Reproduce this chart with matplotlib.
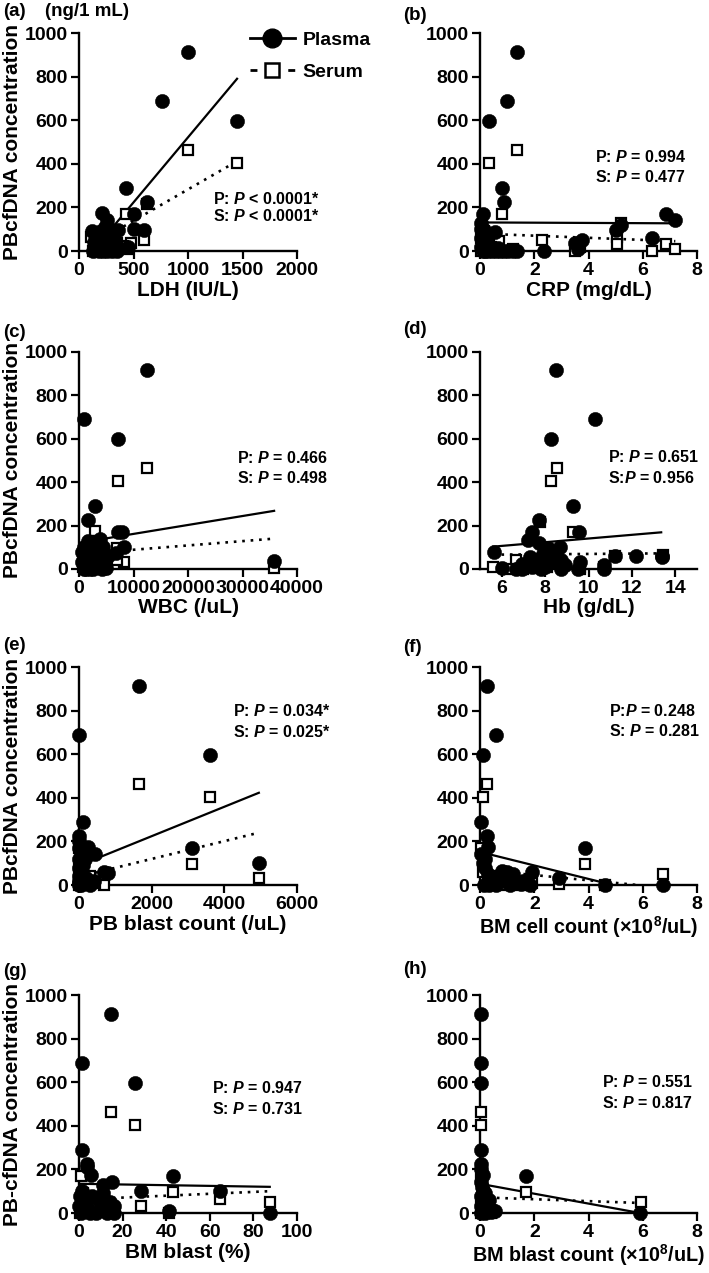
import matplotlib
matplotlib.use('Agg')
import matplotlib.pyplot as plt
from matplotlib.lines import Line2D

plt.rcParams['font.family'] = ['Liberation Sans', 'DejaVu Sans']
plt.rcParams['font.weight'] = 'bold'
plt.rcParams['mathtext.fontset'] = 'custom'
plt.rcParams['mathtext.rm'] = 'Liberation Sans:bold'
plt.rcParams['mathtext.it'] = 'Liberation Sans:bold:italic'
plt.rcParams['mathtext.bf'] = 'Liberation Sans:bold'

# (a) LDH
ldh_plasma_x = [1000, 765, 1450, 430, 620, 500, 215, 255, 500, 600, 360, 115, 240, 130, 150, 170, 190, 210,
                230, 250, 270, 290, 310, 330, 350, 180, 220, 260, 300, 200, 160, 320, 280, 450, 140]
ldh_plasma_y = [915, 690, 598, 290, 225, 170, 175, 140, 100, 95, 95, 90, 110, 0, 10, 30, 50, 70,
                20, 40, 80, 60, 10, 30, 0, 0, 0, 0, 0, 90, 60, 50, 100, 20, 40]
ldh_serum_x = [1000, 1450, 430, 620, 600, 480, 110, 150, 180, 200, 230, 260, 300, 330, 400, 450, 250,
               210, 170, 350, 280, 130]
ldh_serum_y = [465, 405, 170, 215, 50, 35, 65, 20, 40, 10, 30, 50, 20, 0, 25, 10, 0, 60, 5, 35, 70, 0]
ldh_fit_plasma = ([140, 1450], [8, 790])
ldh_fit_serum = ([140, 1450], [35, 412])

# (b) CRP
crp_plasma_x = [1.35, 1.0, 0.35, 0.8, 0.9, 0.1, 6.85, 7.2, 5.2, 5.0, 6.35, 3.75, 3.5, 2.35, 0.55, 0.05, 0.1,
                0.05, 0.15, 0.05, 0.1, 0.2, 0.3, 0.45, 0.6, 0.75, 0.9, 1.05, 1.2, 1.35, 0.2, 0.3, 0.15,
                0.4, 0.65, 0.05, 0.25, 3.6]
crp_plasma_y = [915, 690, 598, 290, 225, 170, 170, 140, 120, 95, 60, 50, 35, 0, 85, 100, 80,
                60, 40, 20, 0, 0, 0, 0, 0, 0, 0, 0, 0, 0, 55, 25, 95, 10, 15, 130, 70, 10]
crp_serum_x = [1.35, 0.35, 0.8, 5.2, 5.05, 5.05, 2.3, 3.5, 6.35, 6.85, 7.2, 0.7, 0.05, 0.1, 0.2, 0.05,
               0.4, 0.6, 1.0, 1.2, 0.15, 3.7]
crp_serum_y = [465, 405, 170, 130, 65, 30, 50, 0, 0, 30, 10, 45, 60, 30, 10, 0, 20, 5, 0, 10, 90, 20]
crp_fit_plasma = ([0, 7.2], [131, 127])
crp_fit_serum = ([0, 7.2], [80, 45])

# (c) WBC
wbc_plasma_x = [12500, 900, 7100, 3000, 1700, 3800, 7200, 7800, 8200, 35800, 600, 1000, 1400, 1800, 2200,
                2600, 3000, 3400, 3800, 4200, 4600, 5000, 1200, 2000, 2400, 2800, 3200, 1600, 600, 900,
                5400, 6800, 4400, 2000]
wbc_plasma_y = [915, 690, 598, 290, 225, 140, 170, 170, 100, 35, 80, 100, 60, 40, 20,
                0, 10, 50, 30, 0, 15, 5, 0, 0, 70, 90, 120, 130, 30, 0,
                60, 75, 100, 110]
wbc_serum_x = [12500, 7100, 3000, 6900, 8200, 35800, 1000, 1500, 2000, 2500, 3000, 3500, 4000, 4500,
               1200, 2200, 5000, 800, 6900]
wbc_serum_y = [465, 405, 175, 95, 30, 5, 60, 20, 40, 0, 50, 10, 30, 0, 90, 130, 20, 10, 40]
wbc_fit_plasma = ([600, 35800], [123, 268])
wbc_fit_serum = ([600, 35800], [70, 140])

# (d) Hb
hb_plasma_x = [8.5, 10.3, 8.25, 9.3, 7.7, 7.4, 9.55, 7.2, 7.7, 8.7, 8.15, 5.65, 11.2, 12.2, 13.4, 13.4,
               10.7, 10.7, 9.6, 8.75, 6.0, 6.65, 6.95, 7.4, 8.75, 8.25, 7.3, 6.95, 7.9, 8.0, 8.4, 8.9,
               7.6, 7.0, 9.5, 8.5, 7.8]
hb_plasma_y = [915, 690, 598, 290, 225, 170, 170, 135, 120, 100, 95, 80, 60, 60, 60, 55,
               20, 0, 30, 40, 5, 0, 0, 10, 0, 30, 55, 25, 70, 10, 60, 20,
               35, 15, 0, 80, 0]
hb_serum_x = [8.55, 8.25, 9.3, 7.75, 6.65, 5.6, 9.6, 8.1, 13.45, 11.2, 7.3, 8.5, 7.0, 9.6, 10.7, 7.8,
              8.8, 6.4]
hb_serum_y = [465, 405, 170, 215, 40, 10, 10, 10, 65, 60, 30, 50, 0, 0, 10, 5, 25, 0]
hb_fit_plasma = ([5.6, 13.35], [103, 169])
hb_fit_serum = ([5.6, 13.35], [66, 72])

# (e) PB blast count
pbb_plasma_x = [1650, 0, 3600, 100, 0, 250, 450, 3100, 4950, 700, 800, 0, 0, 50, 0, 20, 0, 30, 0, 10,
                0, 60, 150, 200, 120, 300, 400, 0, 80, 160]
pbb_plasma_y = [915, 690, 598, 290, 225, 175, 140, 170, 100, 60, 55, 200, 170, 150, 120, 100, 80, 60,
                40, 20, 0, 0, 10, 30, 90, 0, 20, 10, 50, 120]
pbb_serum_x = [1650, 3600, 3100, 4950, 700, 300, 440, 0, 0, 30, 0, 100, 200, 60, 0, 150]
pbb_serum_y = [465, 405, 95, 30, 0, 40, 10, 170, 60, 30, 0, 10, 20, 80, 100, 0]
pbb_fit_plasma = ([0, 4950], [89, 423])
pbb_fit_serum = ([0, 4950], [38, 240])

# (f) BM cell count
bmc_plasma_x = [0.25, 0.6, 0.12, 0.05, 0.25, 0.31, 3.87, 1.9, 2.9, 4.6, 6.75, 1.0, 0.8, 1.6, 0.1, 0.2,
                0.3, 0.4, 0.5, 0.15, 0.6, 0.7, 0.9, 1.1, 1.2, 0.05, 0.2, 0.35, 1.85, 1.5]
bmc_plasma_y = [915, 690, 598, 290, 225, 175, 170, 60, 30, 0, 0, 60, 65, 20, 100, 80,
                50, 30, 10, 0, 0, 40, 20, 0, 50, 140, 120, 0, 0, 5]
bmc_serum_x = [0.25, 0.12, 0.05, 3.87, 6.75, 4.6, 2.9, 1.5, 0.1, 0.3, 0.5, 0.8, 1.0, 0.2, 1.9, 0.6]
bmc_serum_y = [465, 405, 170, 95, 50, 0, 5, 0, 60, 20, 40, 0, 30, 90, 10, 10]
bmc_fit_plasma = ([0.05, 4.9], [150, 0])
bmc_fit_serum = ([0.05, 5.8], [69, 0])

# (g) BM blast %
bmp_plasma_x = [14.5, 1.2, 25.5, 1.5, 3.5, 3.8, 5.5, 15, 11, 43, 28.5, 64.5, 41.5, 87.5, 16, 1.2, 0.5, 2,
                3, 4, 1, 5, 6, 9, 10, 12, 13, 14, 8, 2.5, 0, 11, 16]
bmp_plasma_y = [915, 690, 598, 290, 225, 210, 175, 140, 130, 170, 100, 100, 10, 0, 30, 100, 80, 60,
                40, 20, 0, 0, 80, 60, 30, 10, 0, 50, 0, 10, 30, 90, 0]
bmp_serum_x = [14.5, 25.5, 43, 28.5, 64.5, 87.5, 1, 41.5, 1, 3, 6, 10, 13, 16, 0.5, 2, 12, 7]
bmp_serum_y = [465, 405, 95, 30, 65, 50, 170, 0, 60, 20, 0, 40, 10, 20, 0, 90, 50, 30]
bmp_fit_plasma = ([0, 87.5], [134, 120])
bmp_fit_serum = ([0, 87.5], [62, 100])

# (h) BM blast count
bmb_plasma_x = [0.02, 0.02, 0.02, 0.02, 1.68, 5.9, 0.55, 0.05, 0.03, 0.1, 0.05, 0.08, 0.1, 0.2, 0.03,
                0.15, 0.25, 0.05, 0.3, 0.4, 0.02, 0.2, 0.1, 0.35, 0.45]
bmb_plasma_y = [915, 690, 598, 290, 170, 0, 10, 225, 200, 175, 140, 120, 100, 90, 80,
                60, 40, 30, 20, 5, 0, 0, 50, 60, 15]
bmb_serum_x = [0.05, 0.05, 1.68, 5.95, 0.05, 0.05, 0.1, 0.2, 0.02, 0.3, 0.15, 0.4]
bmb_serum_y = [465, 405, 95, 50, 170, 60, 30, 10, 0, 40, 90, 0]
bmb_fit_plasma = ([0, 5.9], [134, 0])
bmb_fit_serum = ([0, 5.9], [72, 46])

panel_tags = ['(a)', '(b)', '(c)', '(d)', '(e)', '(f)', '(g)', '(h)']
x_labels = ['LDH (IU/L)', 'CRP (mg/dL)', 'WBC (/uL)', 'Hb (g/dL)', 'PB blast count (/uL)',
            'BM cell count (×10$^{8}$/uL)', 'BM blast (%)', 'BM blast count (×10$^{8}$/uL)']
p_texts = ['P: $P$ < 0.0001*', 'P: $P$ = 0.994', 'P: $P$ = 0.466', 'P: $P$ = 0.651',
           'P: $P$ = 0.034*', 'P:$P$ = 0.248', 'P: $P$ = 0.947', 'P: $P$ = 0.551']
s_texts = ['S: $P$ < 0.0001*', 'S: $P$ = 0.477', 'S: $P$ = 0.498', 'S:$P$ = 0.956',
           'S: $P$ = 0.025*', 'S: $P$ = 0.281', 'S: $P$ = 0.731', 'S: $P$ = 0.817']

panels = [
    (ldh_plasma_x, ldh_plasma_y, ldh_serum_x, ldh_serum_y, ldh_fit_plasma, ldh_fit_serum,
     (0, 2000), [0, 500, 1000, 1500, 2000]),
    (crp_plasma_x, crp_plasma_y, crp_serum_x, crp_serum_y, crp_fit_plasma, crp_fit_serum,
     (0, 8), [0, 2, 4, 6, 8]),
    (wbc_plasma_x, wbc_plasma_y, wbc_serum_x, wbc_serum_y, wbc_fit_plasma, wbc_fit_serum,
     (0, 40000), [0, 10000, 20000, 30000, 40000]),
    (hb_plasma_x, hb_plasma_y, hb_serum_x, hb_serum_y, hb_fit_plasma, hb_fit_serum,
     (5, 15), [6, 8, 10, 12, 14]),
    (pbb_plasma_x, pbb_plasma_y, pbb_serum_x, pbb_serum_y, pbb_fit_plasma, pbb_fit_serum,
     (0, 6000), [0, 2000, 4000, 6000]),
    (bmc_plasma_x, bmc_plasma_y, bmc_serum_x, bmc_serum_y, bmc_fit_plasma, bmc_fit_serum,
     (0, 8), [0, 2, 4, 6, 8]),
    (bmp_plasma_x, bmp_plasma_y, bmp_serum_x, bmp_serum_y, bmp_fit_plasma, bmp_fit_serum,
     (0, 100), [0, 20, 40, 60, 80, 100]),
    (bmb_plasma_x, bmb_plasma_y, bmb_serum_x, bmb_serum_y, bmb_fit_plasma, bmb_fit_serum,
     (0, 8), [0, 2, 4, 6, 8]),
]

# text positions (axes fraction) for the P / S lines
txt_pos = [(0.616, 0.237, 0.159), (0.528, 0.433, 0.341), (0.727, 0.51, 0.418), (0.59, 0.517, 0.42),
           (0.707, 0.80, 0.70), (0.594, 0.80, 0.705), (0.609, 0.573, 0.478), (0.561, 0.599, 0.505)]
xlabel_size = [15, 15, 15, 15, 15, 14.2, 15, 14.2]

W, H = 709, 1273
fig = plt.figure(figsize=(W / 100, H / 100), dpi=100)

col_left = [79, 480]
col_w = [218, 217]
row_top = [33, 352, 667, 995]
row_bot = [251, 569, 885, 1213]
tag_px = [(3, 12), (403, 15), (3, 332), (403, 330), (3, 645), (403, 647), (3, 972), (403, 969)]

axes = []
for i, p in enumerate(panels):
    r, c = divmod(i, 2)
    rect = [col_left[c] / W, 1 - row_bot[r] / H, col_w[c] / W, (row_bot[r] - row_top[r]) / H]
    ax = fig.add_axes(rect)
    axes.append(ax)
    px, py, sx, sy, fp, fs, xlim, xt = p

    ax.plot(fp[0], fp[1], color='k', lw=1.6, zorder=2)
    ax.plot(fs[0], fs[1], color='k', lw=1.9, ls=(0, (1, 2.2)), zorder=2)
    ax.plot(sx, sy, ls='none', marker='s', ms=7.6, mfc='white', mec='k', mew=1.6, zorder=3, clip_on=False)
    ax.plot(px, py, ls='none', marker='o', ms=10.3, mfc='k', mec='k', mew=0.3, zorder=4, clip_on=False)

    ax.set_xlim(*xlim)
    ax.set_ylim(0, 1000)
    ax.set_xticks(xt)
    ax.set_yticks([0, 200, 400, 600, 800, 1000])
    for s in ['top', 'right']:
        ax.spines[s].set_visible(False)
    for s in ['left', 'bottom']:
        ax.spines[s].set_linewidth(1.7)
    ax.tick_params(direction='out', length=6, width=1.6, labelsize=14, pad=2)
    for lab in ax.get_xticklabels() + ax.get_yticklabels():
        lab.set_fontweight('bold')
    ax.set_xlabel(x_labels[i], fontsize=xlabel_size[i], fontweight='bold', labelpad=1)
    if c == 0:
        ylab = 'PB-cfDNA concentration' if i == 6 else 'PBcfDNA concentration'
        ax.set_ylabel(ylab, fontsize=15, fontweight='bold')
        ax.yaxis.set_label_coords(-0.26, 0.5)

    tx, ty1, ty2 = txt_pos[i]
    ax.text(tx, ty1, p_texts[i], transform=ax.transAxes, fontsize=11.5, fontweight='bold', va='center')
    ax.text(tx, ty2, s_texts[i], transform=ax.transAxes, fontsize=11.5, fontweight='bold', va='center')

    fig.text(tag_px[i][0] / W, 1 - tag_px[i][1] / H, panel_tags[i], fontsize=13.5, fontweight='bold',
             va='center', ha='left')

fig.text(45 / W, 1 - 11 / H, '(ng/1 mL)', fontsize=13.5, fontweight='bold', va='center', ha='left')

h_plasma = Line2D([], [], color='k', lw=2, marker='o', ms=13.5, mfc='k', mec='k')
h_serum = Line2D([], [], color='k', lw=2, ls=(0, (2.5, 4.3)), marker='s', ms=9.5, mfc='white', mec='k', mew=1.8)
axes[0].legend([h_plasma, h_serum], ['Plasma', 'Serum'], loc='upper left',
               bbox_to_anchor=(250 / W, 1 - 31 / H), bbox_transform=fig.transFigure,
               frameon=False, borderpad=0, borderaxespad=0, handlelength=2.3, handletextpad=0.4,
               labelspacing=0.75, prop={'size': 14, 'weight': 'bold'})

fig.savefig('out.png', dpi=100)
